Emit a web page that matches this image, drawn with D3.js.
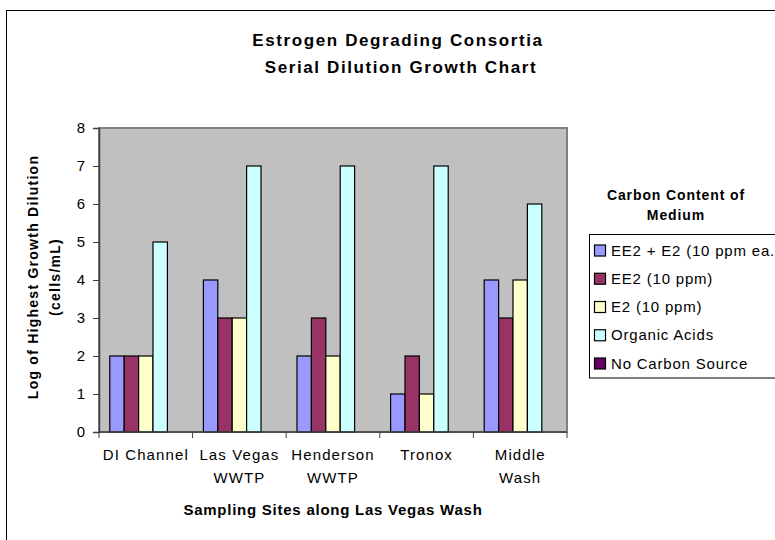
<!DOCTYPE html>
<html>
<head>
<meta charset="utf-8">
<script src="https://cdn.jsdelivr.net/npm/d3@7/dist/d3.min.js"></script>
<style>
  body { margin: 0; background: #fff; }
  svg { display: block; font-family: "Liberation Sans", Arial, sans-serif; }
</style>
</head>
<body>
<svg id="chart" width="775" height="540"></svg>
<script>
// chart data
const sites = [["DI Channel"], ["Las Vegas", "WWTP"], ["Henderson", "WWTP"], ["Tronox"], ["Middle", "Wash"]];
const seriesNames = ["EE2 + E2 (10 ppm ea.", "EE2 (10 ppm)", "E2 (10 ppm)", "Organic Acids", "No Carbon Source"];
const seriesColors = ["#9999FF", "#993366", "#FFFFCC", "#CCFFFF", "#660066"];
const ee2e2 = [2, 4, 2, 1, 4];
const ee2 = [2, 3, 3, 2, 3];
const e2 = [2, 3, 2, 1, 4];
const organicAcids = [5, 7, 7, 7, 6];
const noCarbon = [0, 0, 0, 0, 0];
const yTicks = [0, 1, 2, 3, 4, 5, 6, 7, 8];

const values = [ee2e2, ee2, e2, organicAcids, noCarbon];

const svg = d3.select("#chart");
const plot = { left: 99, right: 567, top: 128, bottom: 432 };

// outer chart border (runs off the canvas on the right and bottom)
svg.append("rect")
  .attr("x", 6.5).attr("y", 10.5)
  .attr("width", 820).attr("height", 600)
  .attr("fill", "#fff").attr("stroke", "#000").attr("stroke-width", 1);

// title
const title = svg.append("text")
  .attr("text-anchor", "middle")
  .style("font-size", "17px").style("font-weight", "bold").style("letter-spacing", "1.6px");
title.append("tspan").attr("x", 398).attr("y", 46).text("Estrogen Degrading Consortia");
title.append("tspan").attr("x", 401).attr("y", 73).text("Serial Dilution Growth Chart");

const x0 = d3.scaleBand()
  .domain(d3.range(sites.length))
  .range([plot.left, plot.right])
  .paddingInner(0).paddingOuter(0);

// Excel style gap width 150%
const gap = 1.5;
const x1 = d3.scaleBand()
  .domain(d3.range(seriesNames.length))
  .range([0, x0.bandwidth()])
  .paddingInner(0)
  .paddingOuter(gap / 2);

const y = d3.scaleLinear().domain([0, 8]).range([plot.bottom, plot.top]);

// plot area
svg.append("rect")
  .attr("x", plot.left).attr("y", plot.top)
  .attr("width", plot.right - plot.left).attr("height", plot.bottom - plot.top)
  .attr("fill", "#C0C0C0").attr("stroke", "#808080").attr("stroke-width", 2);

// bars
const groups = svg.append("g").selectAll("g")
  .data(values)
  .join("g")
  .attr("fill", (d, i) => seriesColors[i]);

groups.selectAll("rect")
  .data((d, si) => d.map((v, ci) => ({ si, ci, v })))
  .join("rect")
  .attr("x", (d) => x0(d.ci) + x1(d.si))
  .attr("y", (d) => y(d.v))
  .attr("width", x1.bandwidth())
  .attr("height", (d) => y(0) - y(d.v))
  .attr("stroke", "#000").attr("stroke-width", 1.2);

// y axis
const yAxis = svg.append("g")
  .attr("transform", `translate(${plot.left},0)`)
  .call(d3.axisLeft(y).tickValues(yTicks).tickSize(6).tickPadding(8).tickFormat(d3.format("d")));
yAxis.select(".domain").attr("stroke", "#404040").attr("stroke-width", 1.5);
yAxis.selectAll(".tick line").attr("stroke", "#404040");
yAxis.selectAll(".tick text")
  .style("font-size", "15px").style("font-family", "Liberation Sans, Arial, sans-serif").attr("fill", "#000");

// x axis: ticks at category boundaries
const bounds = d3.range(sites.length + 1).map((i) => (i < sites.length ? x0(i) : plot.right));
svg.append("line")
  .attr("x1", plot.left).attr("x2", plot.right)
  .attr("y1", plot.bottom).attr("y2", plot.bottom)
  .attr("stroke", "#404040").attr("stroke-width", 1.5);
svg.append("g").selectAll("line")
  .data(bounds)
  .join("line")
  .attr("x1", (d) => d).attr("x2", (d) => d)
  .attr("y1", plot.bottom).attr("y2", plot.bottom + 6)
  .attr("stroke", "#404040");

const catLabels = svg.append("g").selectAll("text")
  .data(sites)
  .join("text")
  .attr("text-anchor", "middle")
  .style("font-size", "15px").style("letter-spacing", "1.1px");
catLabels.selectAll("tspan")
  .data((d, i) => d.map((line, j) => ({ line, j, i })))
  .join("tspan")
  .attr("x", (d) => x0(d.i) + x0.bandwidth() / 2)
  .attr("y", (d) => 460 + d.j * 23)
  .text((d) => d.line);

// axis titles
svg.append("text")
  .attr("x", (plot.left + plot.right) / 2).attr("y", 515)
  .attr("text-anchor", "middle")
  .style("font-size", "15px").style("font-weight", "bold").style("letter-spacing", "0.75px")
  .text("Sampling Sites along Las Vegas Wash");

const yTitle = svg.append("text")
  .attr("transform", "translate(0,277) rotate(-90)")
  .attr("text-anchor", "middle")
  .style("font-size", "14px").style("font-weight", "bold").style("letter-spacing", "1.25px");
yTitle.append("tspan").attr("x", 0).attr("y", 38).text("Log of Highest Growth Dilution");
yTitle.append("tspan").attr("x", 0).attr("y", 60).text("(cells/mL)");

// legend
const legendTitle = svg.append("text")
  .attr("text-anchor", "middle")
  .style("font-size", "14px").style("font-weight", "bold").style("letter-spacing", "0.9px");
legendTitle.append("tspan").attr("x", 676).attr("y", 200).text("Carbon Content of");
legendTitle.append("tspan").attr("x", 676).attr("y", 220).text("Medium");

svg.append("rect")
  .attr("x", 589.5).attr("y", 234.5)
  .attr("width", 220).attr("height", 143.5)
  .attr("fill", "#fff").attr("stroke", "#000");

const legendY = d3.scalePoint().domain(d3.range(seriesNames.length)).range([250.5, 363.5]);

const items = svg.append("g").selectAll("g")
  .data(seriesNames)
  .join("g")
  .attr("transform", (d, i) => `translate(594,${legendY(i)})`);
items.append("rect")
  .attr("x", 0.5).attr("y", -5.5)
  .attr("width", 11).attr("height", 11)
  .attr("fill", (d, i) => seriesColors[i])
  .attr("stroke", "#000").attr("stroke-width", 1.2);
items.append("text")
  .attr("x", 17).attr("y", 5)
  .style("font-size", "15px").style("letter-spacing", "0.8px")
  .text((d) => d);
</script>
</body>
</html>
